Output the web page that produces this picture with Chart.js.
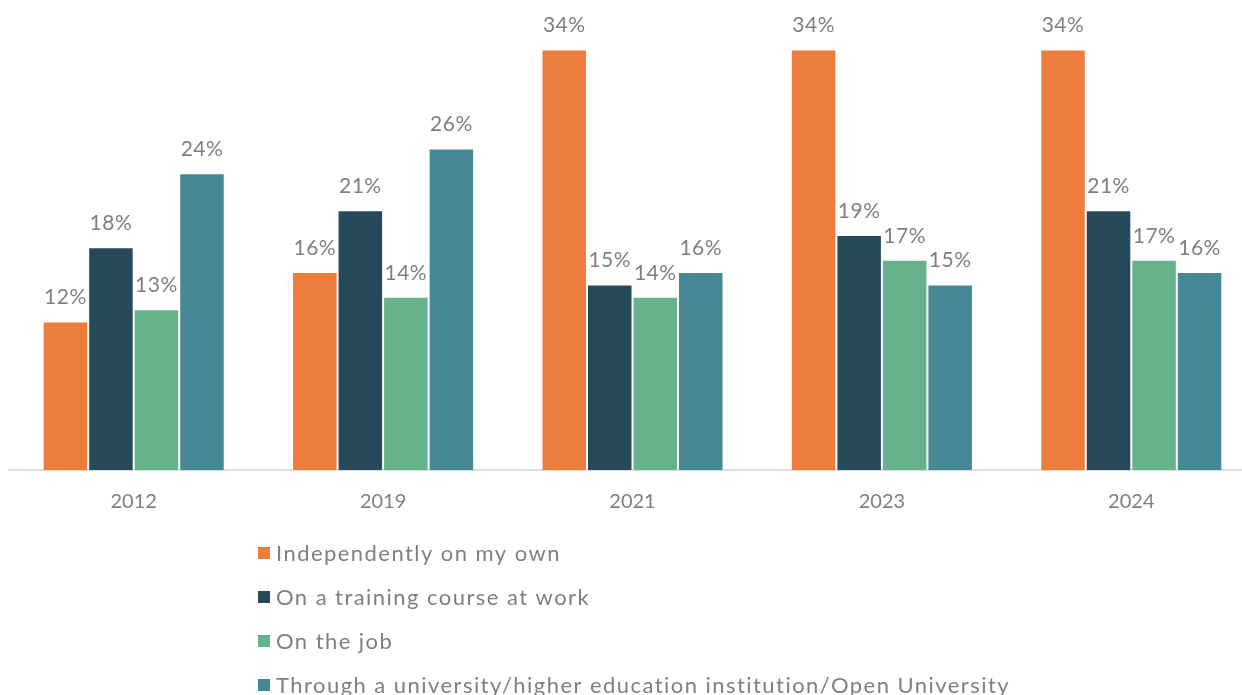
<!DOCTYPE html>
<html lang="en">
<head>
    <meta charset="UTF-8">
    <title>How skills were learned</title>
    <script src="https://cdn.jsdelivr.net/npm/chart.js"></script>
    <style>
        html, body {
            margin: 0;
            padding: 0;
            background: #ffffff;
            overflow: hidden;
        }
        #wrap {
            position: relative;
            width: 1260px;
            height: 695px;
        }
    </style>
</head>
<body>
    <div id="wrap"><canvas id="chart"></canvas></div>
    <script>
        const years = ['2012', '2019', '2021', '2023', '2024'];
        const seriesNames = [
            'Independently on my own',
            'On a training course at work',
            'On the job',
            'Through a university/higher education institution/Open University'
        ];
        const independently = [12, 16, 34, 34, 34];
        const trainingCourse = [18, 21, 15, 19, 21];
        const onTheJob = [13, 14, 14, 17, 17];
        const university = [24, 26, 16, 15, 16];
        const colors = ['#ED7D3D', '#264A5A', '#66B38B', '#478896'];

        const FONT = 'Lato, "Open Sans", sans-serif';
        const GREY = '#7f7f7f';

        // percent labels above each bar
        const valueLabels = {
            id: 'valueLabels',
            afterDatasetsDraw(chart) {
                const { ctx } = chart;
                ctx.save();
                ctx.font = `21px ${FONT}`;
                ctx.letterSpacing = '0.5px';
                ctx.fillStyle = GREY;
                ctx.textAlign = 'center';
                ctx.textBaseline = 'middle';
                chart.data.datasets.forEach((ds, i) => {
                    chart.getDatasetMeta(i).data.forEach((bar, j) => {
                        ctx.fillText(ds.data[j] + '%', bar.x, bar.y - 24);
                    });
                });
                ctx.restore();
            }
        };

        // one legend entry per row, under the axis
        const stackedLegend = {
            id: 'stackedLegend',
            afterDraw(chart) {
                const { ctx } = chart;
                ctx.save();
                ctx.font = `22px ${FONT}`;
                ctx.letterSpacing = '1.45px';
                ctx.textBaseline = 'middle';
                chart.data.datasets.forEach((ds, i) => {
                    const y = 553 + i * 44;
                    ctx.fillStyle = ds.backgroundColor;
                    ctx.fillRect(258, y - 6, 12, 12);
                    ctx.fillStyle = GREY;
                    ctx.fillText(ds.label, 276, y + 1);
                });
                ctx.restore();
            }
        };

        const seriesData = [independently, trainingCourse, onTheJob, university];

        new Chart(document.getElementById('chart'), {
            type: 'bar',
            data: {
                labels: years,
                datasets: seriesData.map((d, i) => ({
                    label: seriesNames[i],
                    data: d,
                    backgroundColor: colors[i],
                    borderColor: 'rgba(255,255,255,0.25)',
                    borderWidth: 1,
                    categoryPercentage: 0.73,
                    barPercentage: 1.0
                }))
            },
            options: {
                responsive: true,
                maintainAspectRatio: false,
                animation: false,
                layout: { padding: { left: 9, right: 4, top: 0, bottom: 0 } },
                plugins: {
                    legend: { display: false },
                    tooltip: { enabled: false }
                },
                scales: {
                    x: {
                        grid: { display: false },
                        border: { color: '#dddddd', width: 2 },
                        ticks: {
                            color: GREY,
                            font: { family: FONT, size: 20 },
                            padding: 12
                        },
                        afterFit(scale) { scale.height = 225; }
                    },
                    y: {
                        display: false,
                        min: 0,
                        max: 38
                    }
                }
            },
            plugins: [valueLabels, stackedLegend]
        });
    </script>
</body>
</html>
